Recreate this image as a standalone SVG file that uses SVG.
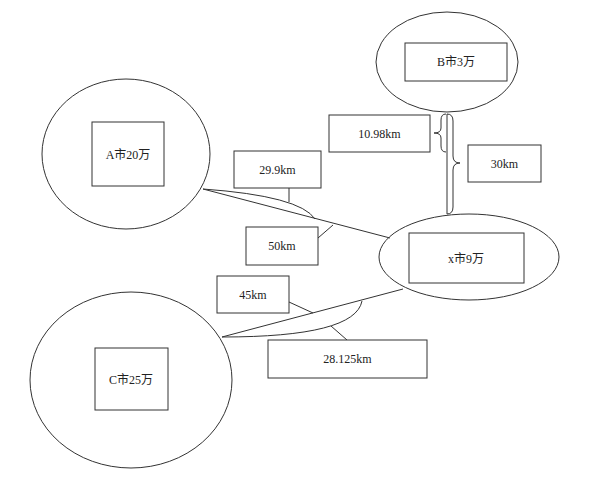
<svg xmlns="http://www.w3.org/2000/svg" width="595" height="477" viewBox="0 0 595 477">
<style>
.s{fill:none;stroke:#333;stroke-width:1}
.b{fill:#fff;stroke:#333;stroke-width:1}
.t{font-family:"Liberation Serif","Noto Sans CJK SC",serif;font-size:12px;fill:#222;text-anchor:middle;dominant-baseline:central}
</style>
<rect width="595" height="477" fill="#fff"/>
<g id="cityB">
<ellipse class="s" cx="447" cy="62" rx="71" ry="50"/>
<rect class="b" x="405" y="43" width="102" height="38"/>
<text class="t" x="456" y="62">B市3万</text>
</g>
<g id="cityA">
<ellipse class="s" cx="126" cy="154" rx="84" ry="75"/>
<rect class="b" x="92" y="122" width="72" height="64"/>
<text class="t" x="128" y="155">A市20万</text>
</g>
<g id="cityC">
<ellipse class="s" cx="131" cy="380" rx="101" ry="88"/>
<rect class="b" x="95" y="348" width="73" height="62"/>
<text class="t" x="131" y="380">C市25万</text>
</g>
<g id="cityX">
<ellipse class="s" cx="469" cy="257" rx="90" ry="43"/>
<rect class="b" x="409" y="233" width="115" height="50"/>
<text class="t" x="466" y="259">x市9万</text>
</g>
<g id="connectors">
<line class="s" x1="203" y1="189" x2="390" y2="238"/>
<path class="s" d="M203,189 Q300,196 315,219"/>
<line class="s" x1="222" y1="337" x2="403" y2="289"/>
<path class="s" d="M222,337 Q355,337 362,301"/>
<line class="s" x1="447" y1="114" x2="447" y2="214"/>
<path class="s" d="M446,114 Q441,114 441,120 L441,128 Q441,133 434,133 Q441,133 441,138 L441,146 Q441,152 446,152"/>
<path class="s" d="M447,114 Q453,114 453,121 L453,156 Q453,163 460,163 Q453,163 453,170 L453,207 Q453,214 447,214"/>
<line class="s" x1="289" y1="188" x2="289" y2="202"/>
<line class="s" x1="318" y1="238" x2="333" y2="225"/>
<line class="s" x1="289" y1="302" x2="313" y2="313"/>
<line class="s" x1="347" y1="340" x2="331" y2="326"/>
</g>
<g id="label-10.98">
<rect class="b" x="329" y="115" width="101" height="37"/>
<text class="t" x="379.5" y="133.5">10.98km</text>
</g>
<g id="label-30">
<rect class="b" x="468" y="145" width="73" height="37"/>
<text class="t" x="504.5" y="163.5">30km</text>
</g>
<g id="label-29.9">
<rect class="b" x="234" y="151" width="87" height="37"/>
<text class="t" x="277.5" y="169.5">29.9km</text>
</g>
<g id="label-50">
<rect class="b" x="246" y="227" width="72" height="38"/>
<text class="t" x="282" y="246">50km</text>
</g>
<g id="label-45">
<rect class="b" x="217" y="276" width="72" height="37"/>
<text class="t" x="253" y="294.5">45km</text>
</g>
<g id="label-28.125">
<rect class="b" x="268" y="340" width="159" height="38"/>
<text class="t" x="347.5" y="359">28.125km</text>
</g>
</svg>
